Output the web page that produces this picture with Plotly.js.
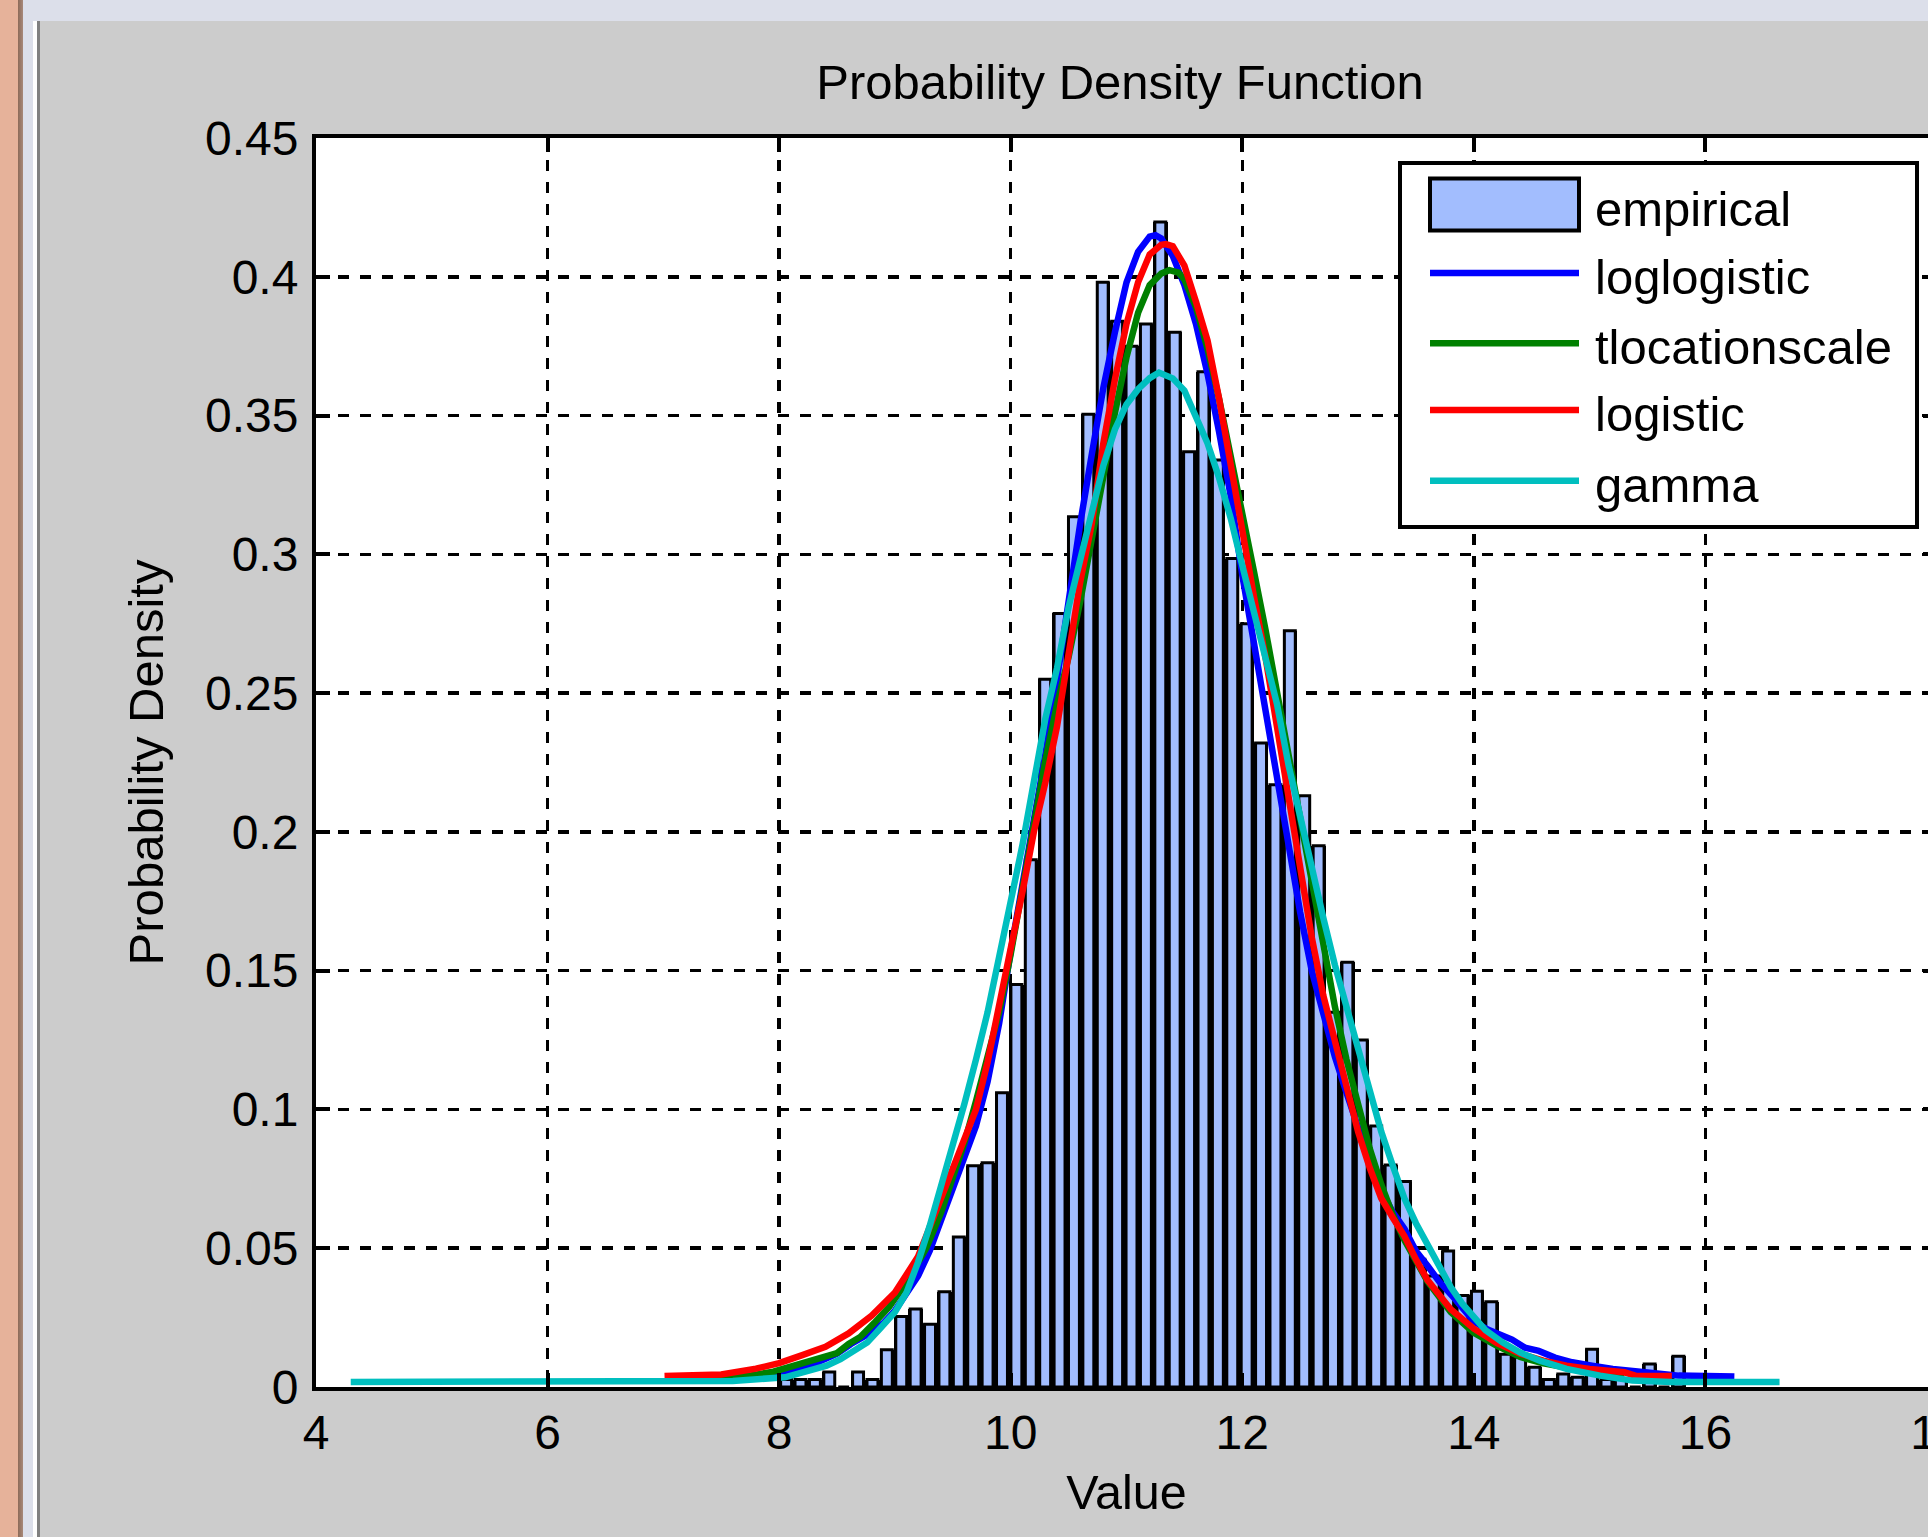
<!DOCTYPE html>
<html>
<head>
<meta charset="utf-8">
<script src="https://cdn.plot.ly/plotly-3.0.1.min.js"></script>
<style>
html,body{margin:0;padding:0;overflow:hidden;background:#cccccc;width:1928px;height:1537px;}
#chart{position:absolute;left:0;top:0;width:1960px;height:1537px;}
.chrome{position:absolute;}
</style>
</head>
<body>
<div id="chart"></div>
<div class="chrome" style="left:0;top:0;width:1928px;height:21px;background:#dcdfea"></div>
<div class="chrome" style="left:0;top:0;width:18px;height:1537px;background:#e6b29a"></div>
<div class="chrome" style="left:18px;top:0;width:5px;height:1537px;background:linear-gradient(to right,#8c6a58,#a8897a)"></div>
<div class="chrome" style="left:23px;top:0;width:10px;height:1537px;background:#dcdfea"></div>
<div class="chrome" style="left:33px;top:21px;width:4px;height:1516px;background:#ffffff"></div>
<div class="chrome" style="left:37px;top:21px;width:3px;height:1516px;background:#808080"></div>
<script>
// ---------------- DATA ----------------
const chartTitle = 'Probability Density Function';
const xAxisTitle = 'Value';
const yAxisTitle = 'Probability Density';
const seriesNames = ['empirical', 'loglogistic', 'tlocationscale', 'logistic', 'gamma'];

// histogram: left edge of first bin, bin width, densities of each bin
const binLeftEdge = 7.998;
const binWidth = 0.1243;
const empiricalDensity = [
  0.0027, 0.0027, 0.0027, 0.0054, 0, 0.0054, 0.0027, 0.0134, 0.0254, 0.0281,
  0.0226, 0.0343, 0.054, 0.0797, 0.0808, 0.106, 0.145, 0.19, 0.255, 0.2787,
  0.3135, 0.3505, 0.398, 0.384, 0.375, 0.383, 0.4197, 0.380, 0.337, 0.3658,
  0.334, 0.2985, 0.275, 0.232, 0.217, 0.2725, 0.213, 0.195, 0.135, 0.153,
  0.125, 0.094, 0.080, 0.074, 0.046, 0.040, 0.049, 0.033, 0.0345, 0.0307,
  0.0118, 0.0107, 0.0071, 0.0027, 0.0047, 0.0035, 0.0136, 0.0027, 0.0027, 0,
  0.0083, 0, 0.0111
];

const loglogisticX = [7.3,7.6,7.84,8.1,8.3, 8.5,8.62,8.76,8.9,9.0, 9.1,9.2,9.3,9.4,9.5, 9.6,9.7,9.8,9.9,10.0,
  10.1,10.2,10.3,10.4,10.5, 10.6,10.7,10.8,10.9,11.0, 11.1,11.2,11.25,11.3,11.4, 11.5,11.6,11.7,11.8,11.9,
  12.0,12.1,12.2,12.3,12.4, 12.5,12.6,12.7,12.8,12.9, 13.0,13.1,13.2,13.3,13.4, 13.5,13.6,13.7,13.83,13.92,
  14.0,14.12,14.23,14.33,14.44, 14.56,14.7,14.85,15.02,15.2, 15.48,15.77,16.25];
const loglogisticY = [0.0025,0.003,0.0037,0.0055,0.0083, 0.012,0.0155,0.0188,0.023,0.0275, 0.0335,0.040,0.049,0.060,0.072, 0.082,0.094,0.110,0.131,0.157,
  0.180,0.203,0.228,0.255,0.284, 0.311,0.336,0.36,0.38,0.398, 0.409,0.4145,0.415,0.4138,0.4075, 0.397,0.383,0.365,0.344,0.321,
  0.2925,0.268,0.243,0.219,0.194, 0.171,0.150,0.1335,0.119,0.106, 0.093,0.081,0.071,0.063,0.057, 0.049,0.0437,0.038,0.032,0.0272,
  0.0236,0.0207,0.019,0.0171,0.0142, 0.013,0.0106,0.0089,0.0077,0.0065, 0.0053,0.0041,0.0038];

const tlocationscaleX = [7.3,7.73,7.95,8.24,8.5, 8.6,8.7,8.82,8.95,9.12, 9.27,9.4,9.5,9.6,9.7, 9.81,9.9,10.0,10.1,10.2,
  10.3,10.4,10.5,10.6,10.7, 10.8,10.9,11.0,11.1,11.2, 11.3,11.37,11.45,11.5,11.6, 11.7,11.8,11.9,12.0,12.1,
  12.2,12.3,12.4,12.5,12.6, 12.7,12.8,12.9,13.0,13.1, 13.2,13.3,13.4,13.5,13.6, 13.8,14.0,14.2,14.4,14.6, 14.8,15.0,15.3];
const tlocationscaleY = [0.003,0.004,0.0055,0.0092,0.0122, 0.0155,0.018,0.023,0.0288,0.039, 0.05,0.063,0.075,0.088,0.103, 0.121,0.135,0.156,0.18,0.202,
  0.226,0.246,0.263,0.283,0.304, 0.328,0.351,0.371,0.387,0.397, 0.4012,0.4024,0.4015,0.399,0.389, 0.374,0.356,0.336,0.315,0.294,
  0.273,0.250,0.227,0.204,0.181, 0.158,0.137,0.118,0.101,0.086, 0.073,0.062,0.053,0.045,0.038, 0.027,0.0195,0.0148,0.0108,0.0085, 0.0068,0.0055,0.0042];

const logisticX = [7.01,7.5,7.8,8.0,8.2, 8.4,8.6,8.8,9.0,9.1, 9.2,9.3,9.4,9.5,9.6, 9.7,9.8,9.9,10.0,10.1,
  10.2,10.3,10.4,10.5,10.6, 10.7,10.8,10.9,11.0,11.1, 11.2,11.3,11.34,11.4,11.5, 11.6,11.7,11.8,11.9,12.0,
  12.1,12.2,12.3,12.4,12.5, 12.6,12.7,12.8,12.9,13.0, 13.1,13.2,13.3,13.4,13.5, 13.6,13.8,14.0,14.2,14.4,
  14.6,14.8,15.0,15.3,15.4, 15.71];
const logisticY = [0.004,0.0045,0.0066,0.0086,0.0115, 0.0145,0.0193,0.0257,0.034,0.040, 0.047,0.0575,0.068,0.078,0.088, 0.100,0.117,0.139,0.158,0.178,
  0.200,0.218,0.238,0.264,0.290, 0.311,0.340,0.363,0.383,0.398, 0.408,0.4115,0.4118,0.411,0.404, 0.391,0.377,0.356,0.332,0.307,
  0.285,0.263,0.238,0.212,0.186, 0.162,0.141,0.124,0.107,0.092, 0.079,0.068,0.061,0.0544,0.046, 0.0385,0.028,0.021,0.0158,0.012,
  0.0095,0.0077,0.0065,0.0053,0.004, 0.004];

const gammaX = [4.3,5.0,6.0,7.0,7.6, 8.05,8.24,8.41,8.53,8.64, 8.76,8.87,9.0,9.1,9.2, 9.3,9.4,9.5,9.6,9.7,
  9.8,9.9,10.0,10.1,10.2, 10.3,10.4,10.5,10.6,10.7, 10.8,10.9,11.0,11.1,11.2, 11.28,11.4,11.5,11.6,11.7,
  11.8,11.9,12.0,12.1,12.2, 12.3,12.4,12.5,12.6,12.7, 12.8,12.9,13.0,13.1,13.2, 13.3,13.4,13.5,13.6,13.7,
  13.8,13.9,14.0,14.1,14.25, 14.4,14.57,14.8,15.09,15.37, 15.7,16.64];
const gammaY = [0.0018,0.0018,0.0018,0.0019,0.0022, 0.0035,0.0054,0.0077,0.010,0.013, 0.016,0.021,0.027,0.034,0.045, 0.058,0.072,0.087,0.102,0.118,
  0.135,0.155,0.175,0.195,0.218, 0.241,0.259,0.281,0.298,0.315, 0.332,0.345,0.354,0.3595,0.3635, 0.3655,0.3634,0.359,0.350,0.340,
  0.3275,0.313,0.296,0.280,0.263, 0.246,0.224,0.205,0.186,0.169, 0.152,0.137,0.122,0.106,0.092, 0.0797,0.068,0.059,0.051,0.043,
  0.036,0.030,0.025,0.0205,0.016, 0.0124,0.0095,0.0065,0.0041,0.0023, 0.0018,0.0018];

const xTickVals = [4, 6, 8, 10, 12, 14, 16, 18];
const yTickVals = [0, 0.05, 0.1, 0.15, 0.2, 0.25, 0.3, 0.35, 0.4, 0.45];
const yTickText = ['0', '0.05', '0.1', '0.15', '0.2', '0.25', '0.3', '0.35', '0.4', '0.45'];

// ---------------- STYLE / LAYOUT ----------------
const W = 1960, H = 1537;
const plotL = 316, plotR = 1937, plotT = 138, plotB = 1387;
const px2x = px => (px - plotL) / (plotR - plotL);
const py2y = py => (plotB - py) / (plotB - plotT);
const fam = '"Liberation Sans", Arial, Helvetica, sans-serif';
const barFill = '#a2bdfe';
const lineColors = ['#0000ff', '#008000', '#ff0000', '#00bfbf'];
const lineW = 6.5;

const centers = empiricalDensity.map((_, i) => binLeftEdge + (i + 0.5) * binWidth);

const curves = [
  [loglogisticX, loglogisticY],
  [tlocationscaleX, tlocationscaleY],
  [logisticX, logisticY],
  [gammaX, gammaY]
];

const traces = [
  {type: 'bar', x: centers, y: empiricalDensity, width: binWidth,
   marker: {color: '#000000', line: {width: 0}}, showlegend: false, hoverinfo: 'skip'},
  {type: 'bar', x: centers, y: empiricalDensity, width: binWidth * 0.76, name: seriesNames[0],
   marker: {color: barFill, line: {color: '#000000', width: 3}}, showlegend: false}
];
curves.forEach((c, i) => {
  traces.push({type: 'scatter', mode: 'lines', x: c[0], y: c[1], name: seriesNames[i + 1],
    line: {color: lineColors[i], width: lineW}, showlegend: false});
});

// custom legend (MATLAB style)
const legBox = {x0: 1400, x1: 1917, y0: 163, y1: 527};
const symX0 = 1430, symX1 = 1579, textX = 1593;
const rowY = [204.5, 273, 343.3, 410, 480.7];
const shapes = [
  {type: 'rect', xref: 'paper', yref: 'paper', x0: px2x(legBox.x0), x1: px2x(legBox.x1),
   y0: py2y(legBox.y1), y1: py2y(legBox.y0), fillcolor: '#ffffff', line: {color: '#000000', width: 4}, layer: 'above'},
  {type: 'rect', xref: 'paper', yref: 'paper', x0: px2x(symX0), x1: px2x(symX1),
   y0: py2y(rowY[0] + 26), y1: py2y(rowY[0] - 26), fillcolor: barFill, line: {color: '#000000', width: 4}, layer: 'above'}
];
for (let i = 1; i < seriesNames.length; i++) {
  shapes.push({type: 'line', xref: 'paper', yref: 'paper', x0: px2x(symX0), x1: px2x(symX1),
    y0: py2y(rowY[i]), y1: py2y(rowY[i]), line: {color: lineColors[i - 1], width: lineW}, layer: 'above'});
}
const annotations = seriesNames.map((n, i) => ({
  xref: 'paper', yref: 'paper', x: px2x(textX), y: py2y(rowY[i]), xanchor: 'left', yanchor: 'middle',
  yshift: -4, text: n, showarrow: false, font: {family: fam, size: 49, color: '#000000'}
}));

const axisCommon = {
  ticks: 'inside', ticklen: 14, tickwidth: 4, tickcolor: '#000000',
  showline: true, linewidth: 4, linecolor: '#000000', mirror: 'ticks',
  showgrid: true, gridcolor: '#000000', gridwidth: 3.5, griddash: '11px,11px',
  zeroline: false, tickfont: {family: fam, size: 48, color: '#000000'}, fixedrange: true,
  ticklabeloverflow: 'allow'
};

const layout = {
  width: W, height: H,
  margin: {l: plotL, r: W - plotR, t: plotT, b: H - plotB, pad: 0},
  paper_bgcolor: '#cccccc', plot_bgcolor: '#ffffff',
  barmode: 'overlay', bargap: 0, showlegend: false,
  font: {family: fam, size: 48, color: '#000000'},
  title: {text: chartTitle, font: {family: fam, size: 49, color: '#000000'},
    x: px2x(1120), xref: 'paper', xanchor: 'center', y: 1 - 82 / H, yref: 'container', yanchor: 'middle'},
  xaxis: Object.assign({}, axisCommon, {range: [4, 18], tickvals: xTickVals, ticktext: xTickVals.map(String),
    title: {text: xAxisTitle, font: {family: fam, size: 48.5, color: '#000000'}, standoff: 18}}),
  yaxis: Object.assign({}, axisCommon, {range: [0, 0.45], tickvals: yTickVals, ticktext: yTickText,
    ticklabelstandoff: 4,
    title: {text: yAxisTitle, font: {family: fam, size: 49, color: '#000000'}, standoff: 27}}),
  shapes: shapes, annotations: annotations
};

Plotly.newPlot('chart', traces, layout, {displayModeBar: false, staticPlot: true});
</script>
</body>
</html>
